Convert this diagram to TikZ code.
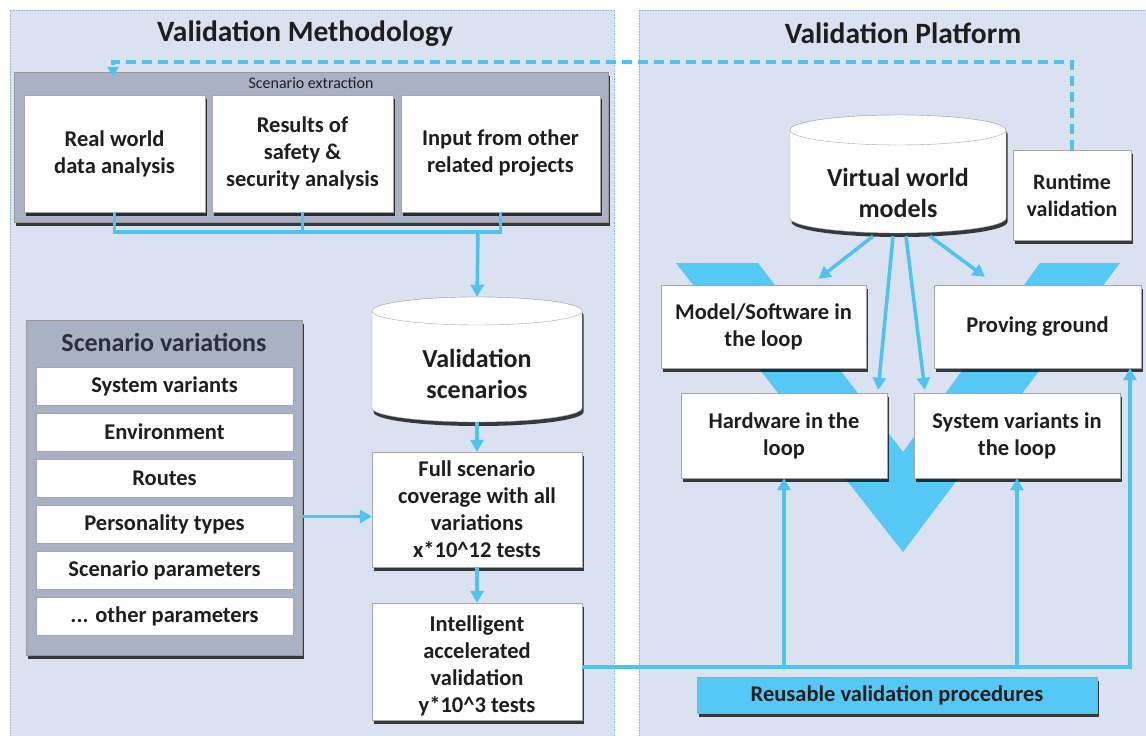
\documentclass[tikz,border=0pt]{standalone}
\usepackage{fontspec}
\setmainfont{Carlito}
\usetikzlibrary{shadows,arrows.meta,calc}
\definecolor{panel}{RGB}{218,225,241}
\definecolor{panelline}{RGB}{140,180,225}
\definecolor{cy}{RGB}{77,195,240}
\definecolor{vfill}{RGB}{86,200,245}
\definecolor{grayb}{RGB}{168,178,196}
\definecolor{txt}{RGB}{30,30,30}
\definecolor{navy}{RGB}{40,48,64}
\begin{document}
\begin{tikzpicture}[x=1pt,y=-1pt,
  shad/.style={drop shadow={shadow xshift=1.5pt,shadow yshift=-4pt,opacity=0.75,fill=black}},
  wbox/.style={draw=gray!70,fill=white,shad,align=center,text=txt,inner sep=2pt,
    font=\bfseries\fontsize{22.5}{27}\selectfont},
  gbox/.style={draw=gray!80,fill=grayb,shad},
  item/.style={draw=gray!70,fill=white,minimum width=257pt,minimum height=38pt,text=txt,
    font=\bfseries\fontsize{22.5}{26}\selectfont,inner sep=0pt},
  cyline/.style={draw=cy,line width=3.5pt},
  arr/.style={cyline,-{Triangle[length=12pt,width=13pt]}},
  dashln/.style={draw=cy,line width=3.5pt,dash pattern=on 10pt off 6pt,-{Triangle[length=10pt,width=11pt]}},
  ttl/.style={font=\bfseries\fontsize{29.5}{34}\selectfont,text=txt},
  ghost/.style={draw=none,inner sep=0pt}
]
\useasboundingbox (0,0) rectangle (1146,736);
\fill[white] (0,0) rectangle (1146,736);
% panels
\fill[panel] (10,10) rectangle (614,740);
\draw[panelline,densely dotted,line width=0.6pt] (10,740) -- (10,10) -- (614,10) -- (614,740);
\fill[panel] (639,10) rectangle (1150,740);
\draw[panelline,densely dotted,line width=0.6pt] (639,740) -- (639,10) -- (1150,10);
\node[ttl] (t1) at (305,34) {Validation Methodology};
\node[ttl] (t2) at (903,33) {Validation Platform};

% V shape
\fill[vfill] (676,263) -- (758,263) -- (903,452) -- (1040,263) -- (1120,263) -- (903,552) -- cycle;

% Scenario extraction
\node[gbox,minimum width=594pt,minimum height=150pt,inner sep=0pt] (se) at (311,147) {};
\node[font=\fontsize{16}{18}\selectfont,text=txt] (selab) at (311,83) {Scenario extraction};
\node[wbox,minimum width=181pt,minimum height=117pt] (rw) at (114.5,153.5) {Real world\\data analysis};
\node[wbox,minimum width=181pt,minimum height=117pt] (sa) at (302.5,153.5) {Results of\\safety \&\\security analysis};
\node[wbox,minimum width=199pt,minimum height=117pt] (io) at (500.5,153.5) {Input from other\\related projects};

% Validation scenarios cylinder
\path[fill=white,draw=gray!70,shad] (372,311) -- (372,408) arc[start angle=180,end angle=360,x radius=105pt,y radius=14pt] -- (582,311) arc[start angle=0,end angle=180,x radius=105pt,y radius=14pt] -- cycle;
\draw[gray!70,fill=white] (477,311) ellipse[x radius=105pt,y radius=14pt];
\node[ghost,minimum width=210pt,minimum height=125pt] (vs) at (477,359.5) {};
\node[align=center,text=txt,font=\bfseries\fontsize{26}{31}\selectfont] (vst) at (477,374) {Validation\\scenarios};

\node[wbox,minimum width=210pt,minimum height=115pt] (fs) at (477,509.5) {Full scenario\\coverage with all\\variations\\x*10\textasciicircum 12 tests};
\node[wbox,minimum width=210pt,minimum height=117pt] (ia) at (477,661.5) {};
\node[align=center,text=txt,font=\bfseries\fontsize{22.5}{27}\selectfont] (iat) at (477,666) {Intelligent\\accelerated\\validation\\y*10\textasciicircum 3 tests};

% Scenario variations
\node[gbox,minimum width=276pt,minimum height=335pt,inner sep=0pt] (sv) at (164,487.5) {};
\node[font=\bfseries\fontsize{26}{30}\selectfont,text=navy] (svt) at (164,342) {Scenario variations};
\node[item] (i1) at (164.5,386) {System variants};
\node[item] (i2) at (164.5,432) {Environment};
\node[item] (i3) at (164.5,478) {Routes};
\node[item] (i4) at (164.5,524) {Personality types};
\node[item] (i5) at (164.5,570) {Scenario parameters};
\node[item] (i6) at (164.5,616) {... other parameters};

% Right panel
\path[fill=white,draw=gray!70,shad] (790,130) -- (790,218) arc[start angle=180,end angle=360,x radius=108pt,y radius=15pt] -- (1006,130) arc[start angle=0,end angle=180,x radius=108pt,y radius=15pt] -- cycle;
\draw[gray!70,fill=white] (898,130) ellipse[x radius=108pt,y radius=15pt];
\node[ghost,minimum width=216pt,minimum height=118pt] (vw) at (898,174) {};
\node[align=center,text=txt,font=\bfseries\fontsize{26}{31}\selectfont] (vwt) at (898,193) {Virtual world\\models};
\node[wbox,minimum width=118pt,minimum height=90pt,font=\bfseries\fontsize{22}{27}\selectfont] (rv) at (1072,195) {Runtime\\validation};

\node[wbox,minimum width=205pt,minimum height=83pt] (ms) at (763.5,326.5) {Model/Software in\\the loop};
\node[wbox,minimum width=207pt,minimum height=83pt] (pg) at (1037.5,326.5) {Proving ground};
\node[wbox,minimum width=206pt,minimum height=85pt] (hw) at (784,435.5) {Hardware in the\\loop};
\node[wbox,minimum width=206pt,minimum height=85pt] (sl) at (1017,435.5) {System variants in\\the loop};
\node[draw=gray!70,fill=vfill,shad,minimum width=400pt,minimum height=36pt,text=txt,
  font=\bfseries\fontsize{22.5}{26}\selectfont] (rp) at (897,695) {Reusable validation procedures};

% connectors
\coordinate (bus) at (478,232);
\draw[cyline] (rw.south) -- (rw.south |- bus) -- (io.south |- bus) -- (io.south);
\draw[cyline] (sa.south) -- (sa.south |- bus);
\draw[arr] (bus) -- (vs.north);
\draw[arr] (vs.south) -- (fs.north);
\draw[arr] (fs.south) -- (ia.north);
\coordinate (fsin) at ($(fs.west)+(0,7)$);
\draw[arr] (sv.east |- fsin) -- (fsin);

\coordinate (iaout) at (582,667);
\coordinate (rbus) at (1130,667);
\draw[arr] (iaout) -- (rbus) -- (rbus |- pg.south);
\draw[arr] (hw.south |- rbus) -- (hw.south);
\draw[arr] (sl.south |- rbus) -- (sl.south);

\draw[arr] ($(vw.south)+(-25,3)$) -- ($(ms.north)+(55,-6)$);
\draw[arr] ($(vw.south)+(-5,3)$) -- ($(hw.north east)+(-9,-3)$);
\draw[arr] ($(vw.south)+(8,3)$) -- ($(sl.north west)+(11,-3)$);
\draw[arr] ($(vw.south)+(32,3)$) -- ($(pg.north west)+(51,-8)$);

\coordinate (dleft) at (113,62);
\draw[dashln] (rv.north) -- (rv.north |- dleft) -- (dleft) -- ($(se.north -| dleft)+(0,5)$);
\end{tikzpicture}
\end{document}
